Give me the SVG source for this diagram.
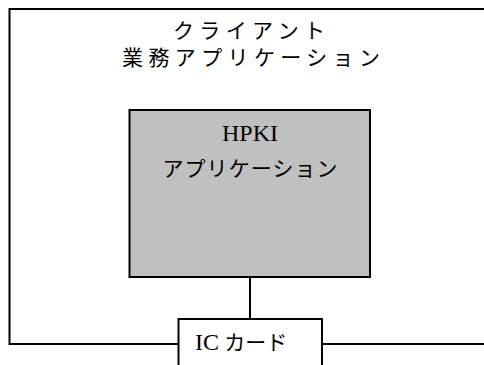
<svg xmlns="http://www.w3.org/2000/svg" width="484" height="365" viewBox="0 0 484 365">
<style>
.ln{fill:none;stroke:#000;stroke-width:2}
.t{font-family:"Liberation Serif","Noto Sans CJK JP",serif;font-size:21px;fill:#000}
.lat{font-size:24px}
</style>
<rect width="484" height="365" fill="#fff"/>
<g id="client">
<rect x="9.5" y="9" width="490" height="335" class="ln"/>
<text class="t" x="173" y="38" textLength="152" lengthAdjust="spacing">クライアント</text>
<text class="t" x="122" y="65" textLength="258" lengthAdjust="spacing">業務アプリケーション</text>
</g>
<g id="connectors">
<line x1="250" y1="277" x2="250" y2="319" class="ln"/>
</g>
<g id="hpki">
<rect x="129.5" y="110" width="240.5" height="167" fill="#c0c0c0" stroke="#000" stroke-width="2"/>
<text class="t lat" x="250" y="141" text-anchor="middle">HPKI</text>
<text class="t" x="250" y="176" text-anchor="middle" textLength="175" lengthAdjust="spacing">アプリケーション</text>
</g>
<g id="iccard">
<rect x="178.5" y="319" width="143.5" height="60" fill="#fff" stroke="#000" stroke-width="2"/>
<text class="t" x="195" y="350"><tspan class="lat">IC</tspan> カード</text>
</g>
</svg>
